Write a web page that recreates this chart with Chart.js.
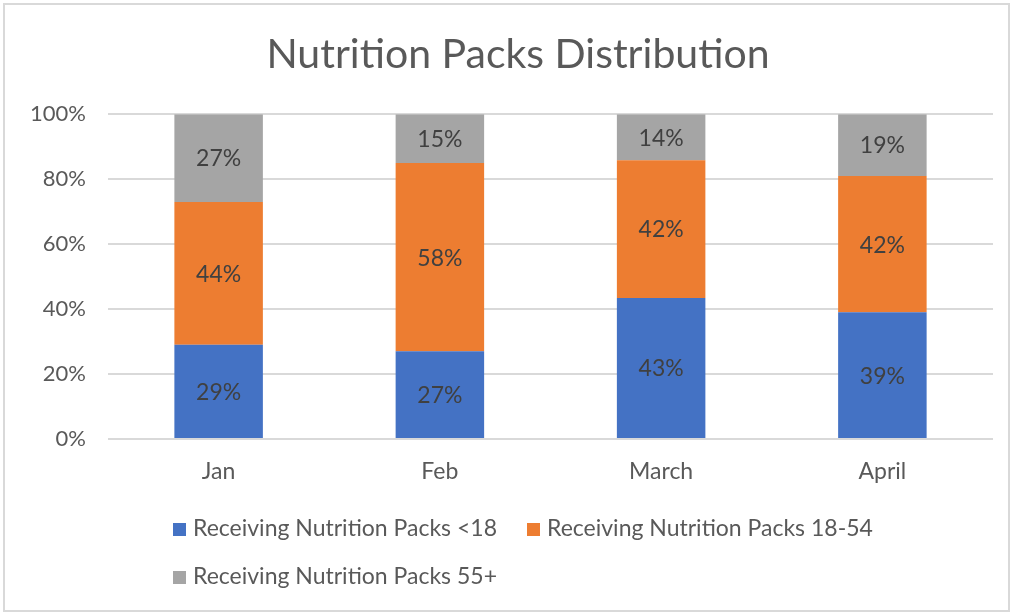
<!DOCTYPE html>
<html>
<head>
<meta charset="utf-8">
<script src="https://cdn.jsdelivr.net/npm/chart.js@4.4.1/dist/chart.umd.min.js"></script>
<style>
  body { margin: 0; background: #fff; }
  #wrap { position: absolute; left: 0; top: 0; width: 1011px; height: 613px; }
  #packsChart { display: block; }
  #frame { position: absolute; left: 3px; top: 3px; width: 1003px; height: 605px; border: 2px solid #d9d9d9; pointer-events: none; }
  #legend { position: absolute; left: 173px; top: 513px; width: 780px; font-family: Lato, sans-serif; font-size: 23px; line-height: 28px; color: #595959; }
  .item { position: absolute; white-space: nowrap; }
  .item span.box { display: inline-block; width: 13px; height: 13px; margin-right: 7px; vertical-align: 0px; }
</style>
</head>
<body>
<div id="wrap">
  <canvas id="packsChart" width="1011" height="613"></canvas>
  <div id="legend"></div>
  <div id="frame"></div>
</div>
<script>
var months = ['Jan', 'Feb', 'March', 'April'];
var under18 = [29, 27, 43, 39];
var age18to54 = [44, 58, 42, 42];
var age55plus = [27, 15, 14, 19];
var yTicks = [0, 20, 40, 60, 80, 100];

var seriesNames = ['Receiving Nutrition Packs <18', 'Receiving Nutrition Packs 18-54', 'Receiving Nutrition Packs 55+'];
var seriesColors = ['#4472C4', '#ED7D31', '#A5A5A5'];
var seriesValues = [under18, age18to54, age55plus];

// 100% stacked: each column is scaled to its own total
var totals = months.map((m, i) => under18[i] + age18to54[i] + age55plus[i]);

var segmentLabels = {
    id: 'segmentLabels',
    afterDatasetsDraw(chart) {
        var ctx = chart.ctx;
        ctx.save();
        ctx.font = '23px Lato, sans-serif';
        ctx.fillStyle = '#404040';
        ctx.textAlign = 'center';
        ctx.textBaseline = 'middle';
        chart.data.datasets.forEach((ds, d) => {
            chart.getDatasetMeta(d).data.forEach((bar, i) => {
                ctx.fillText(seriesValues[d][i] + '%', bar.x, (bar.y + bar.base) / 2 + 1);
            });
        });
        ctx.restore();
    }
};

var ctx = document.getElementById('packsChart').getContext('2d');
var chart = new Chart(ctx, {
    type: 'bar',
    data: {
        labels: months,
        datasets: seriesNames.map((name, d) => ({
            label: name,
            data: seriesValues[d].map((v, i) => v / totals[i] * 100),
            backgroundColor: seriesColors[d],
            barPercentage: 0.4,
            categoryPercentage: 1
        }))
    },
    options: {
        responsive: false,
        animation: false,
        layout: { padding: { top: 0, right: 0, bottom: 124, left: 25 } },
        plugins: {
            legend: { display: false },
            tooltip: { enabled: false },
            title: {
                display: true,
                text: 'Nutrition Packs Distribution',
                color: '#595959',
                font: { family: 'Lato', size: 41, weight: 'normal' },
                padding: { top: 30, bottom: 35 }
            }
        },
        scales: {
            x: {
                stacked: true,
                afterFit(scale) { scale.height = 50; },
                grid: { display: false, drawTicks: false },
                border: { display: false },
                ticks: { color: '#595959', font: { family: 'Lato', size: 23 }, padding: 19 }
            },
            y: {
                stacked: true,
                min: 0,
                max: 100,
                afterBuildTicks(scale) { scale.ticks = yTicks.map(v => ({ value: v })); },
                afterFit(scale) { scale.width = 83; },
                grid: { color: '#d9d9d9', lineWidth: 2, drawTicks: false },
                border: { display: false },
                ticks: {
                    color: '#595959',
                    font: { family: 'Lato', size: 22 },
                    padding: 22,
                    callback: v => v + '%'
                }
            },
            // empty right margin so the title stays centred on the whole frame
            yRight: {
                position: 'right',
                min: 0,
                max: 100,
                afterFit(scale) { scale.width = 18; },
                grid: { display: false, drawTicks: false },
                border: { display: false },
                ticks: { display: false }
            }
        }
    },
    plugins: [segmentLabels]
});

// legend laid out in two columns like the original
var legend = document.getElementById('legend');
var legendPos = [[0, 0], [354, 0], [0, 48]];
seriesNames.forEach((name, d) => {
    var item = document.createElement('div');
    item.className = 'item';
    item.style.left = legendPos[d][0] + 'px';
    item.style.top = legendPos[d][1] + 'px';
    item.innerHTML = '<span class="box" style="background:' + seriesColors[d] + '"></span>' + name.replace('<', '&lt;');
    legend.appendChild(item);
});
</script>
</body>
</html>
